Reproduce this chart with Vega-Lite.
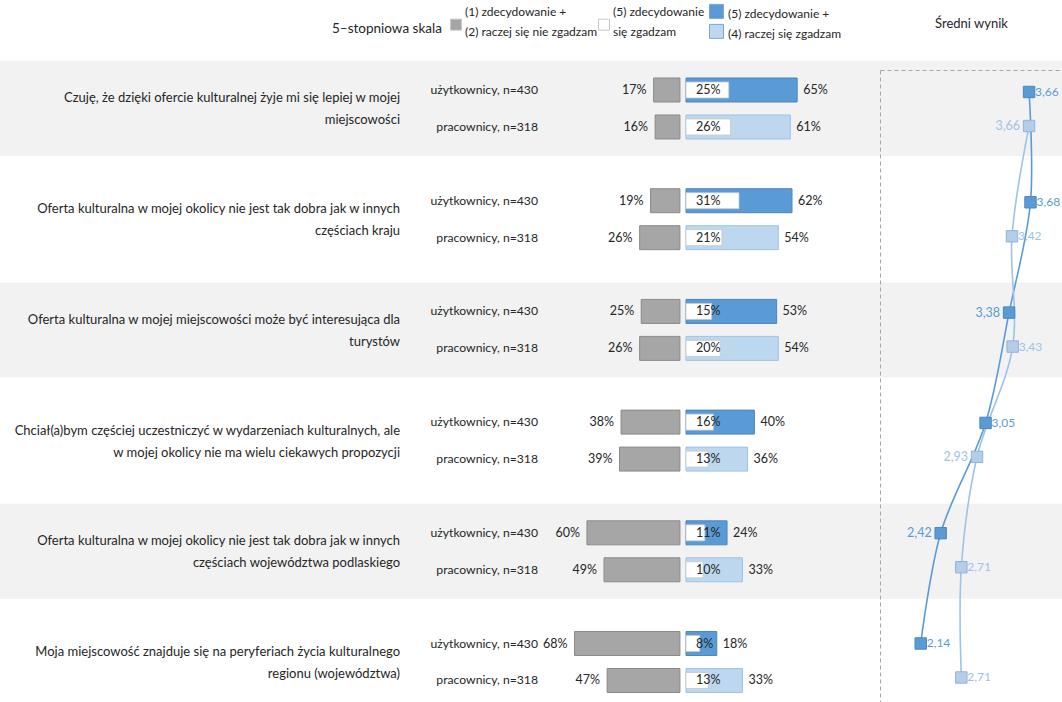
{
  "$schema": "https://vega.github.io/schema/vega-lite/v6.json",
  "width": 1062,
  "height": 702,
  "autosize": {"type": "none"},
  "padding": 0,
  "background": "#ffffff",
  "data": {"name": "wyniki"},
  "datasets": {
    "pytania": [
      {"q": "Q1", "question": "Czuję, że dzięki ofercie kulturalnej żyje mi się lepiej w mojej\nmiejscowości"},
      {"q": "Q2", "question": "Oferta kulturalna w mojej okolicy nie jest tak dobra  jak w innych\nczęściach kraju"},
      {"q": "Q3", "question": "Oferta kulturalna w mojej miejscowości może być interesująca dla\nturystów"},
      {"q": "Q4", "question": "Chciał(a)bym częściej uczestniczyć w wydarzeniach kulturalnych, ale\nw mojej okolicy nie ma wielu ciekawych propozycji"},
      {"q": "Q5", "question": "Oferta kulturalna w mojej okolicy nie jest tak dobra  jak w innych\nczęściach województwa podlaskiego"},
      {"q": "Q6", "question": "Moja miejscowość znajduje się na peryferiach  życia kulturalnego\nregionu (województwa)"}
    ],
    "wyniki": [
      {"q": "Q1", "group": "użytkownicy, n=430", "disagree": 0.17, "strongly": 0.25, "agree": 0.65, "mean": 3.66},
      {"q": "Q1", "group": "pracownicy, n=318", "disagree": 0.16, "strongly": 0.26, "agree": 0.61, "mean": 3.66},
      {"q": "Q2", "group": "użytkownicy, n=430", "disagree": 0.19, "strongly": 0.31, "agree": 0.62, "mean": 3.68},
      {"q": "Q2", "group": "pracownicy, n=318", "disagree": 0.26, "strongly": 0.21, "agree": 0.54, "mean": 3.42},
      {"q": "Q3", "group": "użytkownicy, n=430", "disagree": 0.25, "strongly": 0.15, "agree": 0.53, "mean": 3.38},
      {"q": "Q3", "group": "pracownicy, n=318", "disagree": 0.26, "strongly": 0.20, "agree": 0.54, "mean": 3.43},
      {"q": "Q4", "group": "użytkownicy, n=430", "disagree": 0.38, "strongly": 0.16, "agree": 0.40, "mean": 3.05},
      {"q": "Q4", "group": "pracownicy, n=318", "disagree": 0.39, "strongly": 0.13, "agree": 0.36, "mean": 2.93},
      {"q": "Q5", "group": "użytkownicy, n=430", "disagree": 0.60, "strongly": 0.11, "agree": 0.24, "mean": 2.42},
      {"q": "Q5", "group": "pracownicy, n=318", "disagree": 0.49, "strongly": 0.10, "agree": 0.33, "mean": 2.71},
      {"q": "Q6", "group": "użytkownicy, n=430", "disagree": 0.68, "strongly": 0.08, "agree": 0.18, "mean": 2.14},
      {"q": "Q6", "group": "pracownicy, n=318", "disagree": 0.47, "strongly": 0.13, "agree": 0.33, "mean": 2.71}
    ]
  },
  "layer": [
    {
      "encoding": {
        "y": {"field": "q", "type": "nominal", "axis": null, "scale": {"type": "band", "domain": ["Q1", "Q2", "Q3", "Q4", "Q5", "Q6"], "range": [61, 709.5], "paddingInner": 0.142, "paddingOuter": 0}}
      },
      "layer": [
        {
          "data": {"name": "pytania"},
          "transform": [{"filter": {"field": "q", "oneOf": ["Q1", "Q3", "Q5"]}}],
          "mark": {"type": "bar", "color": "#f2f2f2"},
          "encoding": {}
        },
        {
          "data": {"name": "pytania"},
          "mark": {"type": "text", "align": "right", "baseline": "middle", "lineBreak": "\n", "lineHeight": 22, "dy": -10, "fontSize": 13, "color": "#262626"},
          "encoding": {
            "x": {"datum": 1.806, "type": "quantitative", "axis": null, "scale": {"domain": [-2.465, 4.387], "reverse": true, "zero": false, "nice": false}},
            "text": {"field": "question"}
          }
        },
        {
          "mark": {"type": "text", "align": "right", "baseline": "middle", "fontSize": 12.2, "color": "#262626"},
          "encoding": {
            "x": {"datum": 0.916, "type": "quantitative", "axis": null, "scale": {"domain": [-2.465, 4.387], "reverse": true, "zero": false, "nice": false}},
            "yOffset": {"field": "group", "type": "nominal", "scale": {"type": "band", "domain": ["użytkownicy, n=430", "pracownicy, n=318"], "paddingInner": 0.351, "paddingOuter": 0.46}},
            "text": {"field": "group"}
          }
        },
        {
          "mark": {"type": "bar", "stroke": "#8a8a8a", "strokeWidth": 1},
          "encoding": {
            "x": {"field": "disagree", "type": "quantitative", "axis": null, "scale": {"domain": [-2.465, 4.387], "reverse": true, "zero": false, "nice": false}},
            "yOffset": {"field": "group", "type": "nominal", "scale": {"type": "band", "domain": ["użytkownicy, n=430", "pracownicy, n=318"], "paddingInner": 0.351, "paddingOuter": 0.46}},
            "fill": {
              "datum": "(1) zdecydowanie +\n(2) raczej się nie zgadzam",
              "type": "nominal",
              "scale": {"domain": ["(1) zdecydowanie +\n(2) raczej się nie zgadzam", "(5) zdecydowanie\nsię zgadzam"], "range": ["#a6a6a6", "#ffffff"]},
              "legend": {
                "orient": "none", "legendX": 332, "legendY": 6, "direction": "horizontal",
                "title": "5–stopniowa skala", "titleOrient": "left", "titlePadding": 8,
                "titleAnchor": "middle", "titleBaseline": "top",
                "symbolType": "M-1,1.3H1V3.3H-1Z", "symbolSize": 121, "symbolStrokeColor": "#8c8c8c", "symbolStrokeWidth": 1,
                "labelExpr": "split(datum.label, '\\n')", "labelFontSize": 12, "labelOffset": 3, "columnPadding": -6,
                "titleFontSize": 13.5, "titleFontWeight": "normal"
              }
            }
          }
        },
        {
          "mark": {"type": "text", "align": "right", "baseline": "middle", "dx": -7, "fontSize": 12.5, "color": "#262626"},
          "encoding": {
            "x": {"field": "disagree", "type": "quantitative", "axis": null, "scale": {"domain": [-2.465, 4.387], "reverse": true, "zero": false, "nice": false}},
            "yOffset": {"field": "group", "type": "nominal", "scale": {"type": "band", "domain": ["użytkownicy, n=430", "pracownicy, n=318"], "paddingInner": 0.351, "paddingOuter": 0.46}},
            "text": {"field": "disagree", "type": "quantitative", "format": ".0%"}
          }
        }
      ]
    },
    {
      "encoding": {
        "y": {"field": "q", "type": "nominal", "axis": null, "scale": {"type": "band", "domain": ["Q1", "Q2", "Q3", "Q4", "Q5", "Q6"], "range": [61, 709.5], "paddingInner": 0.142, "paddingOuter": 0}},
        "yOffset": {"field": "group", "type": "nominal", "scale": {"type": "band", "domain": ["użytkownicy, n=430", "pracownicy, n=318"], "paddingInner": 0.351, "paddingOuter": 0.46}}
      },
      "layer": [
        {
          "mark": {"type": "bar", "strokeWidth": 1},
          "encoding": {
            "x": {"field": "agree", "type": "quantitative", "axis": null, "scale": {"domain": [-4.012, 2.199], "zero": false, "nice": false}},
            "color": {
              "field": "group", "type": "nominal",
              "scale": {"domain": ["użytkownicy, n=430", "pracownicy, n=318"], "range": ["#5b9bd5", "#bdd7ee"]},
              "legend": {
                "orient": "none", "legendX": 709, "legendY": 6, "direction": "vertical", "title": null,
                "symbolType": "M-1,-1.3H1V0.7H-1Z", "symbolSize": 196, "symbolStrokeColor": "#7ea6d3", "symbolStrokeWidth": 1,
                "labelExpr": "datum.value == 'użytkownicy, n=430' ? '(5) zdecydowanie +' : '(4) raczej się zgadzam'",
                "labelFontSize": 12, "labelOffset": 4, "rowPadding": 1
              }
            },
            "stroke": {"condition": {"test": "datum.group == 'użytkownicy, n=430'", "value": "#4a86c0"}, "value": "#9dc3e6"}
          }
        },
        {
          "mark": {"type": "bar", "height": 16, "fill": "#ffffff", "stroke": "#c8c8c8", "strokeWidth": 0.8},
          "encoding": {
            "x": {"field": "strongly", "type": "quantitative", "axis": null, "scale": {"domain": [-4.012, 2.199], "zero": false, "nice": false}},
            "fill": {"datum": "(5) zdecydowanie\nsię zgadzam", "type": "nominal"}
          }
        },
        {
          "mark": {"type": "text", "align": "left", "baseline": "middle", "dx": 10, "fontSize": 12.5, "color": "#262626"},
          "encoding": {
            "x": {"datum": 0, "type": "quantitative", "axis": null, "scale": {"domain": [-4.012, 2.199], "zero": false, "nice": false}},
            "text": {"field": "strongly", "type": "quantitative", "format": ".0%"}
          }
        },
        {
          "mark": {"type": "text", "align": "left", "baseline": "middle", "dx": 6, "fontSize": 12.5, "color": "#262626"},
          "encoding": {
            "x": {"field": "agree", "type": "quantitative", "axis": null, "scale": {"domain": [-4.012, 2.199], "zero": false, "nice": false}},
            "text": {"field": "agree", "type": "quantitative", "format": ".0%"}
          }
        }
      ]
    },
    {
      "encoding": {
        "x": {
          "field": "mean", "type": "quantitative",
          "scale": {"domain": [1.569, 4.122], "range": [880, 1062], "zero": false, "nice": false},
          "axis": {"orient": "top", "offset": -70, "domain": true, "domainDash": [4, 3], "domainColor": "#a6a6a6", "domainWidth": 1, "ticks": false, "labels": false, "grid": false, "title": "Średni wynik", "titlePadding": 40, "titleFontWeight": "normal", "titleFontSize": 13, "titleColor": "#262626", "zindex": 1}
        },
        "y": {
          "field": "q", "type": "nominal",
          "scale": {"type": "band", "domain": ["Q1", "Q2", "Q3", "Q4", "Q5", "Q6"], "range": [70, 720], "paddingInner": 0.293, "paddingOuter": 0.093, "align": 0},
          "axis": {"orient": "left", "offset": -880, "domain": true, "domainDash": [4, 3], "domainColor": "#a6a6a6", "domainWidth": 1, "ticks": false, "labels": false, "grid": false, "title": null, "zindex": 1}
        },
        "yOffset": {"field": "group", "type": "nominal", "scale": {"type": "point", "domain": ["użytkownicy, n=430", "pracownicy, n=318"], "padding": 0.647}}
      },
      "layer": [
        {
          "mark": {"type": "line", "interpolate": "catmull-rom", "strokeWidth": 1.6},
          "encoding": {
            "detail": {"field": "group"},
            "order": {"field": "q", "type": "ordinal"},
            "stroke": {"condition": {"test": "datum.group == 'użytkownicy, n=430'", "value": "#5b9bd5"}, "value": "#9dc3e6"}
          }
        },
        {
          "mark": {"type": "square", "size": 130, "opacity": 1, "strokeWidth": 1},
          "encoding": {
            "fill": {"condition": {"test": "datum.group == 'użytkownicy, n=430'", "value": "#5b9bd5"}, "value": "#b4cde8"},
            "stroke": {"condition": {"test": "datum.group == 'użytkownicy, n=430'", "value": "#4a86c0"}, "value": "#8fb3dd"}
          }
        },
        {
          "transform": [{"filter": "(datum.group == 'użytkownicy, n=430' && (datum.q == 'Q3' || datum.q == 'Q5')) || (datum.group == 'pracownicy, n=318' && (datum.q == 'Q1' || datum.q == 'Q4'))"}],
          "mark": {"type": "text", "align": "right", "baseline": "middle", "dx": -9, "fontSize": 12.5},
          "encoding": {
            "text": {"field": "mean", "type": "quantitative", "format": ".2f"},
            "color": {"condition": {"test": "datum.group == 'użytkownicy, n=430'", "value": "#5b9bd5"}, "value": "#9dc3e6"}
          }
        },
        {
          "transform": [{"filter": "!((datum.group == 'użytkownicy, n=430' && (datum.q == 'Q3' || datum.q == 'Q5')) || (datum.group == 'pracownicy, n=318' && (datum.q == 'Q1' || datum.q == 'Q4')))"}],
          "mark": {"type": "text", "align": "left", "baseline": "middle", "dx": 6, "fontSize": 12},
          "encoding": {
            "text": {"field": "mean", "type": "quantitative", "format": ".2f"},
            "color": {"condition": {"test": "datum.group == 'użytkownicy, n=430'", "value": "#5b9bd5"}, "value": "#9dc3e6"}
          }
        }
      ]
    }
  ],
  "resolve": {"scale": {"x": "independent", "y": "independent", "yOffset": "independent"}},
  "config": {
    "font": "Lato",
    "view": {"stroke": null},
    "locale": {"number": {"decimal": ",", "thousands": " ", "grouping": [3], "currency": ["", " zł"]}},
    "style": {"guide-label": {"lineHeight": 20}},
    "legend": {"labelColor": "#262626", "titleColor": "#262626"}
  }
}
